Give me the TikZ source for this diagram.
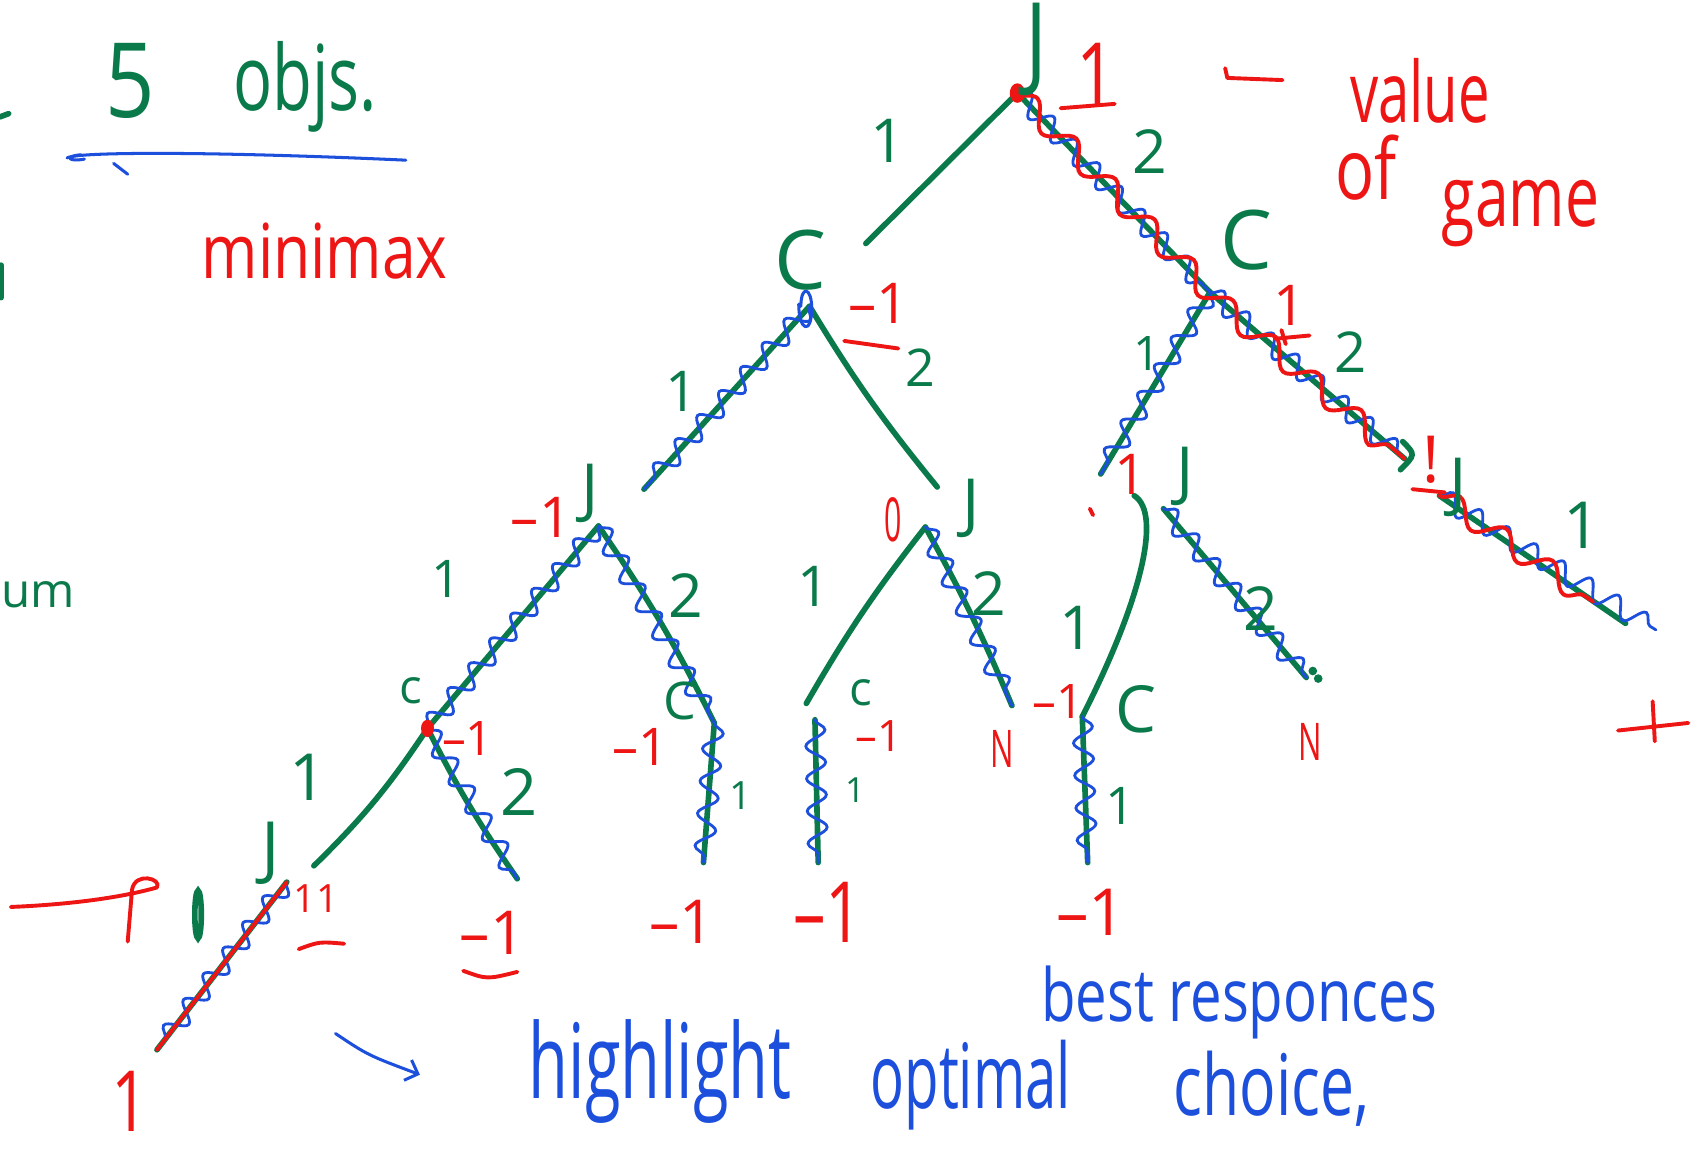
\documentclass[tikz,border=0pt]{standalone}
\usepackage{fontspec}
\setmainfont{Open Sans}
\usetikzlibrary{decorations.pathmorphing,arrows.meta}
\definecolor{hgreen}{HTML}{0B7A4B}
\definecolor{hred}{HTML}{EE1515}
\definecolor{hblue}{HTML}{1C4FDB}
\newcommand{\fs}[1]{\fontsize{#1}{#1}\selectfont}
\tikzset{
 edge/.style={hgreen, line width=2.6pt, line cap=round, line join=round},
 bwave/.style={hblue, line width=1.3pt, line cap=round, decorate, decoration={snake, amplitude=4.5pt, segment length=15pt}},
 rwave/.style={hred, line width=1.8pt, line cap=round, decorate, decoration={snake, amplitude=5pt, segment length=26pt}},
 gtxt/.style={text=hgreen, inner sep=0pt},
 rtxt/.style={text=hred, inner sep=0pt},
 btxt/.style={text=hblue, inner sep=0pt},
 rstroke/.style={hred, line width=1.8pt, line cap=round, line join=round},
 bstroke/.style={hblue, line width=1.4pt, line cap=round, line join=round},
 gstroke/.style={hgreen, line width=2.6pt, line cap=round, line join=round},
}
\begin{document}
\begin{tikzpicture}[x=0.5pt,y=-0.5pt]
\fill[white] (0,0) rectangle (1568,1069);
\path[use as bounding box] (0,0) rectangle (1568,1069);

% ---------- tree coordinates ----------
\coordinate (root) at (940,86);
\coordinate (lc) at (748,283);
\coordinate (rc) at (1118,270);
\coordinate (lj) at (553,486);
\coordinate (mj) at (855,487);
\coordinate (rj1) at (1048,458);
\coordinate (rj1b) at (1075,470);
\coordinate (rj2) at (1330,458);
\coordinate (c1) at (395,673);
\coordinate (c2) at (660,668);
\coordinate (c3) at (753,665);
\coordinate (c4) at (1000,662);
\coordinate (bj) at (265,815);
% free ends
\coordinate (lcin) at (800,225);
\coordinate (ljin) at (595,452);
\coordinate (mjin) at (866,450);
\coordinate (rj1in) at (1017,438);
\coordinate (rj2in) at (1298,424);
\coordinate (c3in) at (745,650);
\coordinate (l1) at (145,970);
\coordinate (l2) at (478,812);
\coordinate (l3) at (650,797);
\coordinate (l4) at (756,797);
\coordinate (l5) at (935,652);
\coordinate (l6) at (1005,797);
\coordinate (l7) at (1207,626);
\coordinate (l8) at (1502,576);
\coordinate (l8b) at (1530,582);
\coordinate (r8) at (1472,556);
\coordinate (bjin) at (290,800);

% ---------- green edges ----------
\draw[edge] (root) -- (lcin);
\draw[edge] (root) -- (rc);
\draw[edge] (lc) -- (ljin);
\draw[edge] (lc) to[bend right=4] (mjin);
\draw[edge] (rc) -- (rj1in);
\draw[edge] (rc) -- (rj2in);
\draw[edge] (lj) -- (c1);
\draw[edge] (lj) to[bend left=4] (c2);
\draw[edge] (mj) to[bend right=4] (c3in);
\draw[edge] (mj) to[bend left=3] (l5);
\draw[edge] (rj1) .. controls (1075,475) and (1052,560) .. (c4);
\draw[edge] (rj1b) -- (l7);
\draw[edge] (rj2) -- (l8);
\draw[edge] (c1) to[bend left=6] (bjin);
\draw[edge] (c1) to[bend right=4] (l2);
\draw[edge] (c2) -- (l3);
\draw[edge] (c3) -- (l4);
\draw[edge] (c4) -- (l6);
\draw[edge] (bj) -- (l1);
\draw[gstroke] (1296,408) .. controls (1308,420) .. (1294,434);
\fill[hgreen] (1213,620) circle (2pt) (1218,627) circle (2pt);

% ---------- blue highlights ----------
\draw[bwave] (root) -- (rc);
\draw[bwave] (rc) -- (rj2in);
\draw[bwave] (rc) -- (rj1in);
\draw[bwave] (lc) -- (ljin);
\draw[bwave] (lj) -- (c1);
\draw[bwave] (lj) -- (c2);
\draw[bwave] (mj) -- (l5);
\draw[bwave] (rj1b) -- (l7);
\draw[bwave] (rj2) -- (l8b);
\draw[bwave] (c1) -- (l2);
\draw[bwave] (c2) -- (l3);
\draw[bwave] (c3) -- (l4);
\draw[bwave] (c4) -- (l6);
\draw[bwave] (bj) -- (l1);
\draw[bstroke] (lc) ++(-8,0) .. controls +(0,-20) and +(0,-20) .. +(10,2) .. controls +(0,25) and +(0,25) .. +(-2,-2);
\draw[bstroke] (62,146) .. controls (70,140) and (200,140) .. (375,148);
\draw[bstroke] (75,143) .. controls (60,144) and (62,150) .. (78,147);
\draw[bstroke] (105,151) -- (118,161);
\draw[bstroke, -{Straight Barb[length=5pt]}] (310,955) .. controls (340,975) .. (388,993);

% ---------- red highlights ----------
\draw[rwave] (root) -- (rc) -- (rj2in);
\draw[rwave] (rj2) -- (r8);
\draw[rstroke] (bj) -- (l1);
\fill[hred] (root) ellipse [x radius=7, y radius=9];
\fill[hred] (c1) ellipse [x radius=6, y radius=8];

% ---------- green node labels ----------
\node[gtxt, font=\fs{38}, yscale=1.25] (tJ)  at (958,46)  {J};
\node[gtxt, font=\fs{38}] (tC1) at (740,240) {C};
\node[gtxt, font=\fs{38}] (tC2) at (1152,222) {C};
\node[gtxt, font=\fs{30}] (tJ2) at (545,456) {J};
\node[gtxt, font=\fs{30}] (tJ3) at (897,470) {J};
\node[gtxt, font=\fs{30}] (tJ4) at (1095,440) {J};
\node[gtxt, font=\fs{30}] (tJ5) at (1347,450) {J};
\node[gtxt, font=\fs{22}] (tc1) at (380,638) {c};
\node[gtxt, font=\fs{24}] (tc2) at (628,648) {C};
\node[gtxt, font=\fs{22}] (tc3) at (795,640) {c};
\node[gtxt, font=\fs{30}] (tc4) at (1050,655) {C};
\node[gtxt, font=\fs{32}] (tJ6) at (250,788) {J};

% ---------- green edge labels ----------
\node[gtxt, font=\fs{28}] (e1)  at (820,130) {1};
\node[gtxt, font=\fs{28}] (e2)  at (1062,140) {2};
\node[gtxt, font=\fs{26}] (e3)  at (630,362) {1};
\node[gtxt, font=\fs{24}] (e4)  at (850,340) {2};
\node[gtxt, font=\fs{22}] (e5)  at (1060,327) {1};
\node[gtxt, font=\fs{26}] (e6)  at (1248,325) {2};
\node[gtxt, font=\fs{24}] (e7)  at (412,535) {1};
\node[gtxt, font=\fs{28}] (e8)  at (634,550) {2};
\node[gtxt, font=\fs{26}] (e9)  at (752,542) {1};
\node[gtxt, font=\fs{28}] (e10) at (914,548) {2};
\node[gtxt, font=\fs{28}] (e11) at (995,580) {1};
\node[gtxt, font=\fs{28}] (e12) at (1165,562) {2};
\node[gtxt, font=\fs{30}] (e13) at (1462,485) {1};
\node[gtxt, font=\fs{30}] (e14) at (285,718) {1};
\node[gtxt, font=\fs{30}] (e15) at (480,732) {2};
\node[gtxt, font=\fs{18}] (e16) at (684,735) {1};
\node[gtxt, font=\fs{16}] (e17) at (790,730) {1};
\node[gtxt, font=\fs{24}] (e18) at (1035,745) {1};
\draw[hgreen, line width=2.6pt] (183,845) ellipse [x radius=3, y radius=22];

% ---------- green top-left text ----------
\node[gtxt, font=\fs{40}, yscale=1.2] (five) at (120,75) {5};
\node[gtxt, font=\fs{30}, yscale=1.4] (objs) at (282,80) {objs.};
\node[gtxt, font=\fs{22}, anchor=west] (um) at (1,550) {um};
\draw[gstroke] (0,108) -- (8,105);
\draw[gstroke] (1,245) -- (1,275);

% ---------- red values ----------
\node[rtxt, font=\fs{32}, yscale=1.3] (v0) at (1013,70) {1};
\draw[rstroke] (980,100) -- (1030,96);
\draw[rstroke] (1132,63) -- (1134,72) -- (1185,74);
\node[rtxt, font=\fs{26}, yscale=1.5] (value) at (1312,84) {value};
\node[rtxt, font=\fs{30}, yscale=1.3] (of) at (1262,155) {of};
\node[rtxt, font=\fs{28}, yscale=1.4] (game) at (1405,197) {game};
\node[rtxt, font=\fs{28}, yscale=1.25] (minimax) at (300,232) {minimax};

\node[rtxt, font=\fs{26}] (vlc) at (812,280) {–1};
\draw[rstroke] (780,315) -- (830,322);
\node[rtxt, font=\fs{26}] (vlj) at (500,478) {–1};
\node[rtxt, font=\fs{28}, xscale=0.5] (vmj) at (825,480) {0};
\node[rtxt, font=\fs{26}] (vrj1) at (1045,438) {1};
\draw[rstroke] (1007,470) -- (1010,476);
\node[rtxt, font=\fs{30}] (vrj2) at (1322,425) {!};
\draw[rstroke] (1305,452) -- (1335,455);
\node[rtxt, font=\fs{26}] (vrc) at (1192,282) {1};
\draw[rstroke] (1178,313) -- (1210,310) (1184,305) -- (1188,318);
\node[rtxt, font=\fs{22}] (vc1) at (432,682) {–1};
\node[rtxt, font=\fs{24}] (vc2) at (592,690) {–1};
\node[rtxt, font=\fs{20}] (vc3) at (812,680) {–1};
\node[rtxt, font=\fs{24}, xscale=0.6] (vn1) at (926,692) {N};
\node[rtxt, font=\fs{22}] (vc4) at (978,648) {–1};
\node[rtxt, font=\fs{24}, xscale=0.6] (vn2) at (1211,686) {N};
\draw[rstroke] (1527,648) -- (1529,685) (1495,675) -- (1560,668);
\node[rtxt, font=\fs{18}] (vbj) at (292,830) {11};
\draw[rstroke] (276,877) .. controls (295,870) .. (318,872);
\node[rtxt, font=\fs{28}] (vl2) at (455,862) {–1};
\draw[rstroke] (428,897) .. controls (450,905) .. (478,898);
\node[rtxt, font=\fs{28}] (vl3) at (630,852) {–1};
\node[rtxt, font=\fs{30}, yscale=1.3] (vl4) at (765,843) {–1};
\node[rtxt, font=\fs{30}] (vl6) at (1008,843) {–1};
\node[rtxt, font=\fs{30}, yscale=1.3] (vl1) at (120,1018) {1};
\draw[rstroke] (10,838) .. controls (60,836) and (110,830) .. (145,820) .. controls (150,812) and (125,805) .. (122,822) -- (118,870);

% ---------- blue text ----------
\node[btxt, font=\fs{26}, yscale=1.3] (best) at (1145,926) {best responces};
\node[btxt, font=\fs{30}, yscale=1.6] (hl) at (610,990) {highlight};
\node[btxt, font=\fs{26}, yscale=1.6] (opt) at (897,1003) {optimal};
\node[btxt, font=\fs{28}, yscale=1.4] (choice) at (1175,1006) {choice,};
\end{tikzpicture}
\end{document}
